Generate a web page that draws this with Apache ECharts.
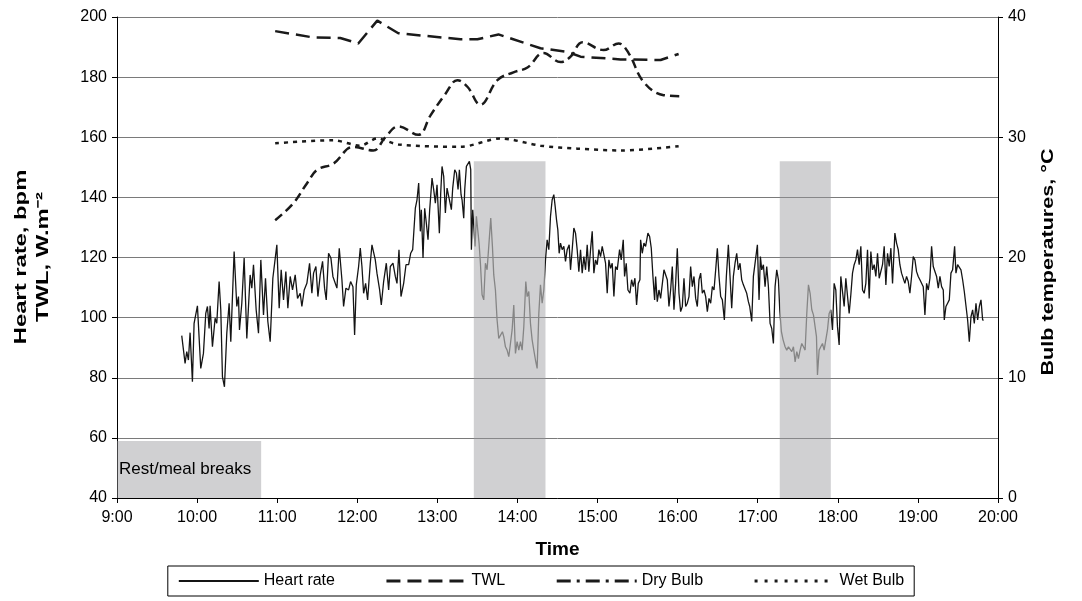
<!DOCTYPE html>
<html>
<head>
<meta charset="utf-8">
<script src="https://cdn.jsdelivr.net/npm/echarts@6/dist/echarts.min.js"></script>
<style>
html,body{margin:0;padding:0;background:#fff;}
#c{width:1082px;height:601px;}
</style>
</head>
<body>
<div id="c"></div>
<script>
// x values are minutes after 9:00
const timeLabels = ['9:00','10:00','11:00','12:00','13:00','14:00','15:00','16:00','17:00','18:00','19:00','20:00'];

const hrTime = [48.5,51,52.25,53.5,54.75,56.5,57.75,60.25,61,62.75,64.75,66.5,67.75,69,69.75,71.5,73.5,74.75,76.5,77.75,79,80.5,82.25,84,85.25,87.75,89.75,91,91.75,93.5,95.25,97.25,99.75,101,102.25,104.25,106,107.75,109.75,111.25,113,114.75,116.75,119.75,121.5,123,124.75,126.5,128,129.75,131.5,133.5,135.25,137.25,138.5,140.25,142.25,144.25,146,147.25,149,150.5,152.25,154,155.5,156.75,158.5,160.25,161.75,164.75,166.5,
168.5,169.75,171.5,173.5,175,176.75,178,179.25,181,182.25,183.5,184.75,186.25,187.75,189.75,191,192.25,193.5,194.75,196.75,198,199.75,201.75,203.5,204.75,206.75,208.5,209.75,211.25,
212.75,214.75,216.5,218.5,220,221.5,222.5,223.5,224.75,226,227.25,228,229.25,230.5,231.75,233,234.25,236,237.25,238.5,239.75,241.5,242.5,243.5,244.75,246,247.25,248.5,250.5,251.5,253,254.25,255.5,256.5,257.75,258.5,259.75,260.5,261.75,263,264,265,
265.5,266.5,267.5,268.25,269.25,270.25,271.25,272.25,273.5,274.75,276,277.25,278.5,280,281.25,282.25,283.5,284.75,286,287.25,288.75,289.75,291,292.25,293.5,294.75,296,297.25,298.5,299.75,301,302.25,303.5,304.75,306.25,307.25,308.5,309.75,311,312.25,313.5,314.75,316,317.25,318.5,319.75,321,322.25,323.5,324.75,326,327.25,328.25,329.25,330.25,331.25,332.25,333.5,334.75,336,337.25,338.75,339.75,341,342.25,343.5,344.75,346,347.25,348.5,349.75,351,352.25,353.5,354.75,356,357.25,358.5,359.75,361,362.25,363.5,364.75,366,367.25,368.5,369.75,371,372.25,373.5,374.75,376.5,377.75,379.25,380.25,381.5,382.75,384.25,385.5,386.75,388,389.25,390.5,391.75,
392.25,393.5,394.75,396,397.75,399,400.25,401.5,402.75,403.5,404.75,406,407.25,408.5,409.75,411,412.25,413.5,414.75,416,417.25,418.5,419.75,421,422.25,423.5,424.75,426,427.25,428.5,429.75,431,432.25,433.5,434.75,436,437.25,438.5,439.75,441,442.25,443.5,444.75,446,447.25,448.5,449.75,451,452.25,453.5,455,456.5,458,459.25,460.5,461.75,463,464.25,465.5,466.75,468,469.25,470.5,471.75,473,474,475.5,476.75,478,479.75,481,482,483,484.25,485.5,486.75,488,489.25,490.5,491.75,493,494.25,495.5,496.5,497.75,499,500.5,501.75,503,504.25,505.5,506.75,508,509.25,510.5,511.75,513,514.25,515.5,516.75,518,519.25,520.5,521.75,
522.75,524,524.75,526,527.25,528.5,529.75,531,532.25,533.5,534.75,536,537.25,538.5,539.75,541,542.25,543.5,544.75,546,547.25,548.5,549.75,551,552.25,553.5,554.75,556,557.25,558.5,559.75,561,562.25,563.5,564.75,566,567.25,568.5,569.75,571,572.25,573.5,574.75,576,577.25,578.5,579.75,581,582.75,584,585.25,586.5,587.75,589,590.25,591.5,592.75,594,595.25,596.5,597.75,599,600.25,601.5,602.75,604,605.25,606.5,607.75,609,610.25,611.5,612.75,614,615.25,616.5,617.75,619,619.75,621,622.25,623.5,624.75,626,627.5,628.5,629.75,631,632.25,633.5,634.75,636,637.25,638.5,639.75,641,642.25,643.5,644.75,646,647.25,648.5,649.25];

const hrValue = [94,84.8,88.7,85.9,95,78.7,98.1,103.9,103.9,83.1,88.1,101.4,103.7,96.4,103.9,90.3,99.8,98.1,112,102.6,80.3,77,94.8,104.8,92,122,103.7,107,95.9,104.8,119.8,93.1,114.2,109.8,117.6,102.6,94.8,119.2,100.9,113.1,98.7,92,113.1,124.2,103.1,115.9,105.9,115.3,103.1,113.7,109.2,114.2,106.4,108.1,103.7,109.2,111.4,118.1,108.1,114.8,117,107,114.2,118.7,109.8,105.9,121.4,119.8,113.7,109.8,123.1,
112.6,103.7,109.8,109.2,112,110.3,94.2,110.9,117,123.1,117,108.1,111.4,105.9,118.1,124.2,124.8,119.2,114.8,109.2,104.2,112,118.1,109.2,117,118.1,113.7,111.4,122.6,
107,111.4,117.6,117.6,121.4,122.6,122.6,136.4,139.2,144.8,128.7,135.9,119.8,136.4,131.4,125.9,135.9,146.4,142.6,138.1,144.2,128.1,141.4,150.3,147,134.8,143.1,142.6,135.9,143.1,149.2,148.1,142.6,149.2,140.9,139.2,133.1,142.6,150.3,150.9,152,149.2,
122.6,135.9,135.3,123.7,133.7,129.2,124.8,118.1,107.6,105.9,118.1,115.9,123.7,133.1,123.7,114.2,109.2,99.2,93.1,92.6,95.3,93.7,90.3,89.2,87,91.4,95.9,104.2,88.1,92,89.2,92,89.2,96.9,112,107,108.7,98.1,92.6,89.2,85.9,83.1,101.4,110.9,104.8,109.2,119.2,125.9,122.6,133.7,139.2,140.9,137,132.6,129.2,121.4,124.8,122.6,123.7,118.7,122.6,124.2,115.9,122.6,129.8,128.1,122.6,115.3,122.6,114.8,120.3,115.9,124.2,115.3,122.6,128.7,114.8,119.2,117.6,122.6,120.3,123.7,124.2,118.1,108.1,119.2,116.4,118.1,107,117,115.9,122.6,119.2,125.9,113.7,118.1,109.2,108.1,112.6,110.3,113.1,104.2,111.4,112.6,
125.9,121.4,124.8,123.7,128.1,127,123.1,113.7,105.9,113.7,105.3,109.2,106.4,106.4,115.9,115.3,112.6,103.7,109.2,117,102.6,111.4,123.1,108.1,102,103.7,113.1,103.7,104.8,107,117,110.3,113.7,106.4,103.7,112.6,114.8,108.1,109.2,107,102,106.4,104.8,110.3,109.2,115.9,123.1,113.7,107,105.9,99.2,113.7,124.2,113.7,103.1,113.7,118.1,121.4,115.9,118.1,112.6,110.9,110.9,108.1,105.3,103.7,98.7,113.7,113.7,124.2,105.9,120.3,115.9,117.6,110.3,117,110.3,98.1,96.4,91.4,110.3,115.9,112.6,102.6,95.3,92.6,90.3,89.2,90.3,89.8,88.7,90.3,85.3,88.7,86.4,89.2,91.4,90.3,89.2,101.4,110.9,108.1,102.6,100.9,
100.3,93.7,80.9,89.2,90.3,91.4,89.2,92.6,95.9,101.4,102.6,95.9,111.4,109.2,97,90.9,113.7,113.7,103.7,113.1,112.6,101.4,107.6,114.8,117.6,119.2,122.6,117.6,123.7,109.2,108.1,111.4,122.6,106.4,122,115.9,117.6,113.7,121.4,113.1,113.7,117.6,123.7,110.9,121.4,117,123.1,111.4,128.1,124.8,122.6,117.6,114.8,115.3,111.4,113.7,112,108.1,113.7,120.3,119.2,115.3,113.7,112.6,112,110.3,100.9,111.4,109.2,113.1,123.7,117,117,113.7,109.8,113.7,110.3,109.2,99.2,103.7,104.8,105.9,114.8,115.9,123.7,114.8,117.6,117,115.9,112.6,108.7,108.1,99.2,92,100.3,102.6,98.1,104.8,99.2,103.7,105.9,99.2,99.2];

const twlTime  = [118.5,147,167.25,180.75,195,210.75,257.25,270,285.75,317.25,337.5,347.25,377.25,407.25,420.75];
const twlValue = [195.3,193.2,193,191.2,198.8,194.6,192.6,192.6,194.2,189.6,188.4,186.8,185.9,185.7,187.7];

const dryTime  = [118.5,132,142.5,150,162,177,192,201,210.75,225.75,234.75,246,255,262.5,272.25,285,297,307.5,319.5,332.25,339.75,348.75,364.5,375.75,383.25,394.5,409.5,424.5];
const dryValue = [23.1,24.5,26.2,27.3,27.8,29.2,28.9,30.0,30.9,30.2,31.8,33.6,34.75,34.2,32.7,34.75,35.4,35.8,37,36.25,36.7,37.9,37.25,37.8,37,34.6,33.5,33.4];

const wetTime  = [118.5,162,182.25,195,210.75,257.25,287.25,317.25,345,377.25,420.75];
const wetValue = [29.5,29.75,29.3,29.9,29.4,29.2,29.9,29.3,29.05,28.9,29.25];

const breakStart = [267.3, 496.5];
const breakEnd   = [321, 534.75];
const breakTop = 152;
const restLabel = 'Rest/meal breaks';
const restKey = [0, 108, 40, 59];

const zip = (a, b) => a.map((t, i) => [t, b[i]]);

const chart = echarts.init(document.getElementById('c'), null, {renderer: 'canvas'});
const FONT = '"Liberation Sans", Arial, sans-serif';
const shade = 'rgba(150,150,156,0.45)';

const areas = breakStart.map((s, i) => [{xAxis: s, yAxis: 40}, {xAxis: breakEnd[i], yAxis: breakTop}]);
areas.push([{xAxis: restKey[0], yAxis: restKey[2], name: restLabel}, {xAxis: restKey[1], yAxis: restKey[3]}]);

const hideSym = {opacity: 0};

const option = {
  animation: false,
  backgroundColor: '#fff',
  textStyle: {fontFamily: FONT},
  grid: {left: 117, right: 84, top: 17, bottom: 103, containLabel: false},
  graphic: [
    {type: 'text', x: 21, y: 257, rotation: Math.PI / 2, scaleX: 1.4,
      style: {text: 'Heart rate, bpm', font: 'bold 17px ' + FONT, fill: '#000', align: 'center', verticalAlign: 'middle'}},
    {type: 'text', x: 43, y: 257, rotation: Math.PI / 2, scaleX: 1.4,
      style: {text: 'TWL, W.m\u207B\u00B2', font: 'bold 17px ' + FONT, fill: '#000', align: 'center', verticalAlign: 'middle'}},
    {type: 'text', x: 1048, y: 262, rotation: Math.PI / 2, scaleX: 1.27,
      style: {text: 'Bulb temperatures, \u00B0C', font: 'bold 17px ' + FONT, fill: '#000', align: 'center', verticalAlign: 'middle'}}
  ],
  legend: {
    left: 'center', top: 566, orient: 'horizontal',
    padding: [7, 10, 7, 10],
    borderColor: '#000', borderWidth: 1,
    itemWidth: 80, itemHeight: 12, itemGap: 50,
    textStyle: {fontSize: 16, color: '#000', fontFamily: FONT},
    data: [
      {name: 'Heart rate', itemStyle: hideSym, lineStyle: {width: 2, type: 'solid', color: '#141414'}},
      {name: 'TWL', itemStyle: hideSym, lineStyle: {width: 3, type: [14, 7]}},
      {name: 'Dry Bulb', itemStyle: hideSym, lineStyle: {width: 3, type: [14, 6, 3, 6]}},
      {name: 'Wet Bulb', itemStyle: hideSym, lineStyle: {width: 3, type: [3, 7]}}
    ]
  },
  xAxis: {
    type: 'value', min: 0, max: 660, interval: 60,
    name: 'Time', nameLocation: 'middle', nameGap: 42,
    nameTextStyle: {fontSize: 19, fontWeight: 'bold', color: '#000', fontFamily: FONT},
    axisLine: {show: true, onZero: false, lineStyle: {color: '#000', width: 1}},
    axisTick: {show: true, inside: false, length: 5, lineStyle: {color: '#000'}},
    axisLabel: {fontSize: 16, color: '#000', margin: 12, fontFamily: FONT,
      formatter: v => timeLabels[Math.round(v / 60)]},
    splitLine: {show: false}
  },
  yAxis: [
    {
      type: 'value', min: 40, max: 200, interval: 20, position: 'left',
      axisLine: {show: true, lineStyle: {color: '#000', width: 1}},
      axisTick: {show: true, length: 5, lineStyle: {color: '#000'}},
      axisLabel: {fontSize: 16, color: '#000', margin: 10, fontFamily: FONT},
      splitLine: {show: true, lineStyle: {color: '#7a7a7a', width: 1}}
    },
    {
      type: 'value', min: 0, max: 40, interval: 10, position: 'right',
      axisLine: {show: true, lineStyle: {color: '#000', width: 1}},
      axisTick: {show: true, length: 5, lineStyle: {color: '#000'}},
      axisLabel: {fontSize: 16, color: '#000', margin: 10, fontFamily: FONT},
      splitLine: {show: false}
    }
  ],
  visualMap: [{
    type: 'piecewise', show: false, seriesIndex: 0, dimension: 0,
    pieces: breakStart.map((s, i) => ({gte: s, lte: breakEnd[i], color: '#858585'})),
    outOfRange: {color: '#141414'}
  }],
  series: [
    {
      name: 'Heart rate', type: 'line', yAxisIndex: 0, symbol: 'none', z: 3,
      data: zip(hrTime, hrValue),
      lineStyle: {width: 1.3},
      markArea: {
        silent: true,
        itemStyle: {color: shade},
        label: {show: true, position: 'insideLeft', color: '#000', fontSize: 17, fontFamily: FONT,
          formatter: p => p.name || '', offset: [-3, 0]},
        data: areas
      }
    },
    {
      name: 'TWL', type: 'line', yAxisIndex: 0, symbol: 'none', z: 4,
      data: zip(twlTime, twlValue),
      lineStyle: {width: 2.5, color: '#1a1a1a', type: [14, 7]},
      itemStyle: {color: '#1a1a1a'}
    },
    {
      name: 'Dry Bulb', type: 'line', yAxisIndex: 1, symbol: 'none', smooth: 0.4, z: 4,
      data: zip(dryTime, dryValue),
      lineStyle: {width: 2.5, color: '#1a1a1a', type: [9, 5]},
      itemStyle: {color: '#1a1a1a'}
    },
    {
      name: 'Wet Bulb', type: 'line', yAxisIndex: 1, symbol: 'none', smooth: 0.3, z: 4,
      data: zip(wetTime, wetValue),
      lineStyle: {width: 2.5, color: '#1a1a1a', type: [4, 5]},
      itemStyle: {color: '#1a1a1a'}
    }
  ]
};
chart.setOption(option);
</script>
</body>
</html>
